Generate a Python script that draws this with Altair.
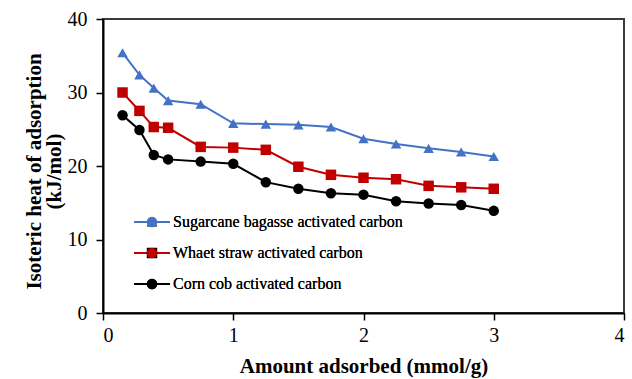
import altair as alt
import pandas as pd

# Isosteric heat of adsorption vs. amount adsorbed for three activated carbons
amount = [0.15, 0.28, 0.39, 0.5, 0.75, 1.0, 1.25, 1.5, 1.75, 2.0, 2.25, 2.5, 2.75, 3.0]
sugarcane = [35.4, 32.4, 30.6, 28.9, 28.4, 25.8, 25.7, 25.6, 25.3, 23.7, 23.0, 22.4, 21.9, 21.3]
wheat = [30.0, 27.5, 25.3, 25.2, 22.6, 22.5, 22.2, 19.9, 18.8, 18.4, 18.2, 17.3, 17.1, 16.9]
corn = [26.9, 24.9, 21.5, 20.9, 20.6, 20.3, 17.8, 16.9, 16.3, 16.1, 15.2, 14.9, 14.7, 13.9]

series_names = [
    "Sugarcane bagasse activated carbon",
    "Whaet straw activated carbon",
    "Corn cob activated carbon",
]
series_colors = ["#4472C4", "#C00000", "#000000"]
series_shapes = ["triangle-up", "square", "circle"]

rows = []
for name, values in zip(series_names, [sugarcane, wheat, corn]):
    for a, q in zip(amount, values):
        rows.append({"amount": a, "heat": q, "series": name, "series_pt": name})
df = pd.DataFrame(rows)

FONT = "Liberation Serif"
LEG_X, LEG_Y = 41, 195

x_enc = alt.X(
    "amount:Q",
    scale=alt.Scale(domain=[0, 4]),
    axis=alt.Axis(values=[0, 1, 2, 3, 4], title="Amount adsorbed (mmol/g)"),
)
y_enc = alt.Y(
    "heat:Q",
    scale=alt.Scale(domain=[0, 40]),
    axis=alt.Axis(
        values=[0, 10, 20, 30, 40],
        title=["Isoteric heat of adsorption", "(kJ/mol)"],
        titleX=-80,
        titleY=152,
        titleBaseline="top",
        titleAlign="center",
        titleLineHeight=20,
    ),
)

common_legend = dict(
    orient="none",
    legendX=LEG_X,
    legendY=LEG_Y,
    title=None,
    padding=0,
    rowPadding=15,
    labelOffset=13,
    labelLimit=0,
    labelFont=FONT,
    labelFontSize=16,
    labelColor="#000000",
)

lines = alt.Chart(df).mark_line(strokeWidth=2).encode(
    x=x_enc,
    y=y_enc,
    color=alt.Color(
        "series:N",
        scale=alt.Scale(domain=series_names, range=series_colors),
        legend=alt.Legend(
            symbolType="M-3,0H3",
            symbolSize=144,
            symbolStrokeWidth=2,
            labelOpacity=0,
            **common_legend,
        ),
    ),
)

points = alt.Chart(df).mark_point(filled=True, opacity=1, size=110).encode(
    x=x_enc,
    y=y_enc,
    fill=alt.Fill(
        "series_pt:N",
        sort=series_names,
        scale=alt.Scale(range=series_colors),
        legend=alt.Legend(symbolSize=110, symbolStrokeWidth=0, **common_legend),
    ),
    shape=alt.Shape(
        "series_pt:N",
        sort=series_names,
        scale=alt.Scale(range=series_shapes),
        legend=alt.Legend(symbolSize=110, symbolStrokeWidth=0, **common_legend),
    ),
)

chart = (
    alt.layer(lines, points)
    .properties(
        width=521,
        height=294,
        autosize=alt.AutoSizeParams(type="none"),
        padding={"left": 103, "top": 19, "right": 8, "bottom": 66},
        background="white",
    )
    .configure_view(stroke="#3a3a3a", strokeWidth=2)
    .configure_axis(
        grid=False,
        domainColor="#000000",
        domainWidth=2,
        tickColor="#000000",
        tickWidth=1.5,
        tickSize=7,
        labelFont=FONT,
        labelFontSize=20,
        labelColor="#000000",
        titleFont=FONT,
        titleFontSize=21,
        titleFontWeight="bold",
        titleColor="#000000",
    )
    .configure_axisX(labelPadding=5, titlePadding=10)
    .configure_axisY(labelPadding=9)
)

chart.save("out.html", embed_options={"renderer": "svg", "actions": False})
